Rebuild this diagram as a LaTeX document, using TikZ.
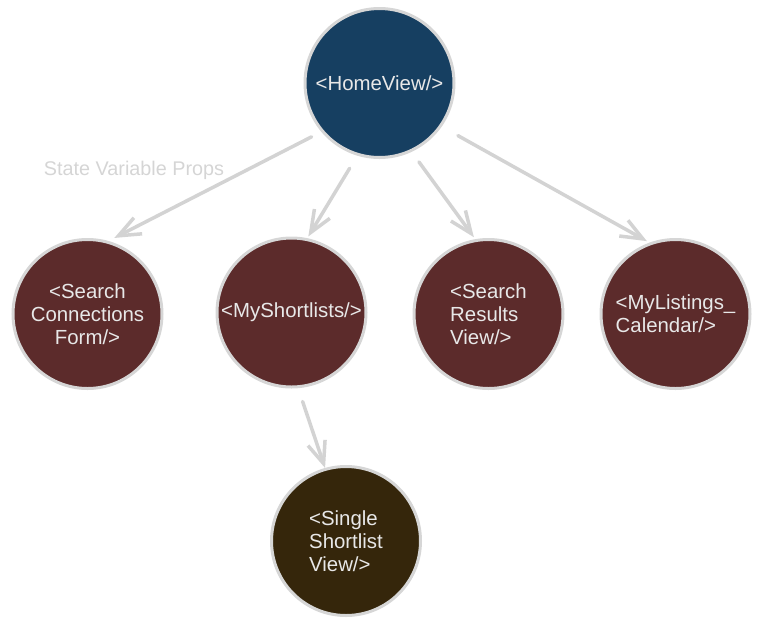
\documentclass[tikz,border=0pt]{standalone}
\usepackage{fontspec}
\setmainfont{Liberation Sans}
\usetikzlibrary{arrows.meta}
\definecolor{homeblue}{HTML}{163F61}
\definecolor{maroonfill}{HTML}{5C2B2B}
\definecolor{brownfill}{HTML}{35260B}
\definecolor{rimgray}{HTML}{D6D6D6}
\definecolor{linkgray}{HTML}{D3D3D3}
\definecolor{txtgray}{HTML}{E8E8E8}
\definecolor{lblgray}{HTML}{D5D5D5}
\begin{document}
\begin{tikzpicture}[x=1pt,y=-1pt,
  comp/.style={circle, draw=rimgray, line width=3pt, minimum size=149pt, inner sep=0pt,
    text=txtgray, font=\fontsize{20.4}{23}\selectfont},
  link/.style={draw=linkgray, line width=3.5pt, line cap=round,
    -{Straight Barb[length=22pt,width=18pt]}},
  lbl/.style={text=lblgray, font=\fontsize{19.8}{23}\selectfont}]
\useasboundingbox (0,0) rectangle (761,625);
\node[comp, fill=homeblue] (home) at (379.5,83) {<HomeView/>};
\node[comp, fill=maroonfill, align=center] (sc) at (87.5,314) {<Search\\Connections\\Form/>};
\node[comp, fill=maroonfill] (ms) at (291.5,312.5) {<MyShortlists/>};
\node[comp, fill=maroonfill, align=left] (sr) at (488.5,314) {<Search\\Results\\View/>};
\node[comp, fill=maroonfill, align=left] (ml) at (675.5,314) {<MyListings\_\\Calendar/>};
\node[comp, fill=brownfill, align=left] (ss) at (346,541) {<Single\\Shortlist\\View/>};
\node[lbl] (props) at (134,170) {State Variable Props};
\draw[link, shorten <=10.9pt, shorten >=6.6pt] (home.220) -- (sc.74);
\draw[link, shorten <=14.7pt, shorten >=2pt] (home.253.7) -- (ms.78.5);
\draw[link, shorten <=12.4pt, shorten >=2.4pt] (home.295.1) -- (sr.100.7);
\draw[link, shorten <=18.5pt, shorten >=3pt] (home.325.1) -- (ml.110.4);
\draw[link, shorten <=14pt, shorten >=0pt] (ms.275.4) -- (ss.106.8);
\end{tikzpicture}
\end{document}
